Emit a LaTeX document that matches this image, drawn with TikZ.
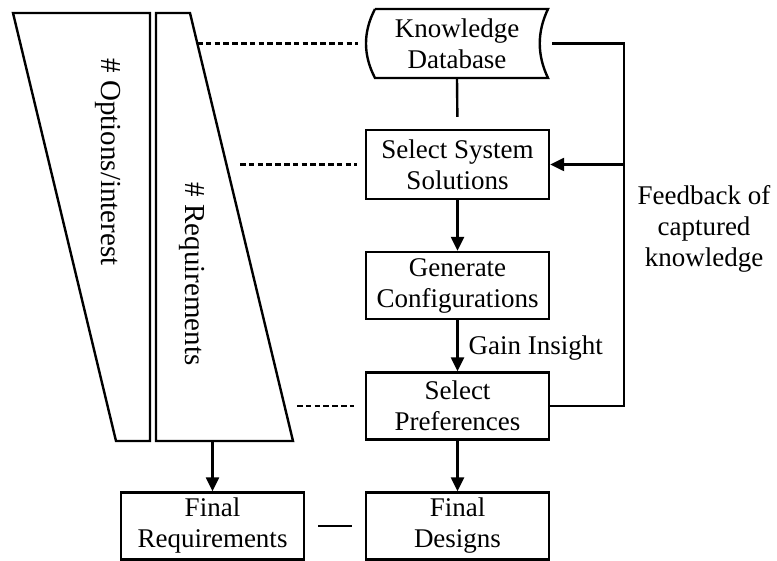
\documentclass[tikz,border=0pt]{standalone}
\usepackage{fontspec}
\setmainfont{Liberation Serif}
\usetikzlibrary{arrows.meta}

\begin{document}
\begin{tikzpicture}[x=0.5pt, y=-0.5pt, line join=miter]
% flow of the design process
\def\lw{1.2pt}
\providecommand{\boxfont}{\fontsize{13.5}{15.5}\selectfont}
\providecommand{\sidefont}{\fontsize{14.5}{17}\selectfont}
\tikzset{
  procbox/.style={draw, line width=\lw, minimum width=91.5pt, minimum height=33.5pt,
    inner sep=0pt, align=center, font=\boxfont},
  flowline/.style={line width=\lw},
  flowarrow/.style={line width=\lw, -{Triangle[length=7pt,width=6.5pt]}},
  dotline/.style={line width=\lw, dash pattern=on 2.8pt off 1.6pt},
}
\useasboundingbox (0,0) rectangle (777,561);

% funnels on the left
\draw[flowline] (13,13) -- (150,13) -- (150,441) -- (116,441) -- cycle;
\draw[flowline] (156,13) -- (190,13) -- (293,441) -- (156,441) -- cycle;
\node[rotate=-90, font=\sidefont] (opt) at (108,162) {\# Options/interest};
\node[rotate=-90, font=\sidefont] (req) at (192,274) {\# Requirements};

% process boxes
\node[font=\boxfont, align=center, minimum width=95pt, minimum height=34.5pt, inner sep=0pt]
  (kd) at (457,43.5) {Knowledge\\Database};
\draw[flowline] (375,9) -- (548,9) .. controls (537,32) and (537,55) .. (548,78)
  -- (375,78) .. controls (363,55) and (363,32) .. (375,9);
\node[procbox, minimum height=34.5pt] (sss) at (457.5,164.5) {Select System\\Solutions};
\node[procbox] (gc) at (457.5,285.5) {Generate\\Configurations};
\node[procbox] (sp) at (457.5,406) {Select\\Preferences};
\node[procbox] (fd) at (457.5,526) {Final\\Designs};
\node[procbox] (fr) at (212.5,526) {Final\\Requirements};

% connectors
\draw[flowline, shorten >=6pt] (kd.south) -- (sss.north);
\draw[flowarrow] (sss) -- (gc);
\draw[flowarrow] (gc) -- node[right, font=\boxfont, inner sep=5pt, pos=0.55] (gain) {Gain Insight} (sp);
\draw[flowarrow] (sp) -- (fd);
\coordinate (reqbot) at (212.5,441);
\draw[flowarrow] (reqbot) -- (fr);
\draw[flowline, shorten <=6.5pt, shorten >=6.5pt] (fr) -- (fd);

% feedback loop
\coordinate (fbx) at (624,0);
\draw[flowline] (kd.east) -- (kd.east -| fbx) -- (sp.east -| fbx) -- (sp.east);
\draw[flowarrow] (sss.east -| fbx) -- (sss.east);
\node[font=\boxfont, align=center] (fb) at (704,229) {Feedback of\\captured\\knowledge};

% dotted links from the funnel
\coordinate (d1) at (197,43.5);
\coordinate (d2) at (240,164.5);
\coordinate (d3) at (297,406);
\draw[dotline, shorten >=2pt] (d1) -- (d1 -| kd.west);
\draw[dotline, shorten >=4pt] (d2) -- (d2 -| sss.west);
\draw[dotline, shorten >=5.5pt] (d3) -- (d3 -| sp.west);
\end{tikzpicture}
\end{document}
